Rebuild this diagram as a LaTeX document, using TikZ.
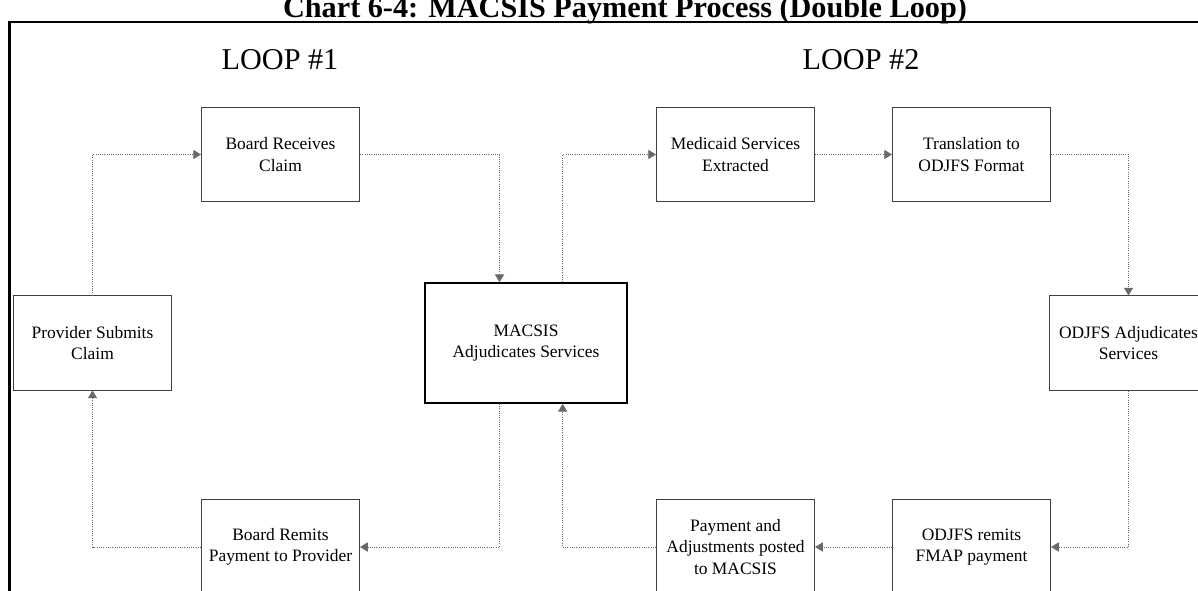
\documentclass[tikz,border=0pt]{standalone}
\usepackage{fontspec}
\setmainfont{Liberation Serif}
\usepackage{tikz}
\usetikzlibrary{arrows.meta,calc}
\usepackage{xcolor}
\definecolor{flow-gray}{RGB}{105,105,105}
\tikzstyle{procbox}=[draw=black!75, line width=0.7pt, fill=white, minimum width=3.95cm, minimum height=2.35cm, inner sep=2pt, align=center, font=\fontsize{12.4}{15}\selectfont]
\tikzstyle{bigbox}=[procbox, draw=black, line width=1.2pt, minimum width=5.05cm, minimum height=3cm]
\tikzstyle{flow}=[densely dotted, flow-gray, line width=0.6pt, -{Triangle[length=5.5pt,width=6.5pt]}]
\tikzstyle{looplabel}=[font=\fontsize{21.5}{25}\selectfont]

\begin{document}
\begin{tikzpicture}[x=0.025cm,y=-0.025cm]
	\useasboundingbox (0,0) rectangle (1198,591);
	\node[anchor=base, font=\bfseries\fontsize{21.5}{25}\selectfont] (title) at (625,18) {Chart 6-4: MACSIS Payment Process (Double Loop)};
	\draw[line width=1.8pt] (9.5,22) rectangle (1230,630);
	\node[looplabel] (loopA) at (280,60) {LOOP \#1};
	\node[looplabel] (loopB) at (861,60) {LOOP \#2};
	% first loop
	\node[procbox] (prov) at (92.5,343) {Provider Submits\\Claim};
	\node[procbox] (recv) at (280.5,154.5) {Board Receives\\Claim};
	\node[bigbox] (macsis) at (526,343) {MACSIS\\Adjudicates Services};
	\node[procbox] (remit) at (280.5,547) {Board Remits\\Payment to Provider};
	% second loop
	\node[procbox] (extr) at (735.5,154.5) {Medicaid Services\\Extracted};
	\node[procbox] (transl) at (971.5,154.5) {Translation to\\ODJFS Format};
	\node[procbox] (odjfs) at (1128.5,343) {ODJFS Adjudicates\\Services};
	\node[procbox] (fmap) at (971.5,547) {ODJFS remits\\FMAP payment};
	\node[procbox] (posted) at (735.5,547) {Payment and\\Adjustments posted\\to MACSIS};
	\coordinate (mtA) at ($(macsis.north west)!0.37!(macsis.north east)$);
	\coordinate (mtB) at ($(macsis.north west)!0.68!(macsis.north east)$);
	\coordinate (mbA) at ($(macsis.south west)!0.37!(macsis.south east)$);
	\coordinate (mbB) at ($(macsis.south west)!0.68!(macsis.south east)$);
	\draw[flow] (prov.north) |- (recv.west);
	\draw[flow] (recv.east) -| (mtA);
	\draw[flow] (mbA) |- (remit.east);
	\draw[flow] (remit.west) -| (prov.south);
	\draw[flow] (mtB) |- (extr.west);
	\draw[flow] (extr.east) -- (transl.west);
	\draw[flow] (transl.east) -| (odjfs.north);
	\draw[flow] (odjfs.south) |- (fmap.east);
	\draw[flow] (fmap.west) -- (posted.east);
	\draw[flow] (posted.west) -| (mbB);
\end{tikzpicture}
\end{document}
